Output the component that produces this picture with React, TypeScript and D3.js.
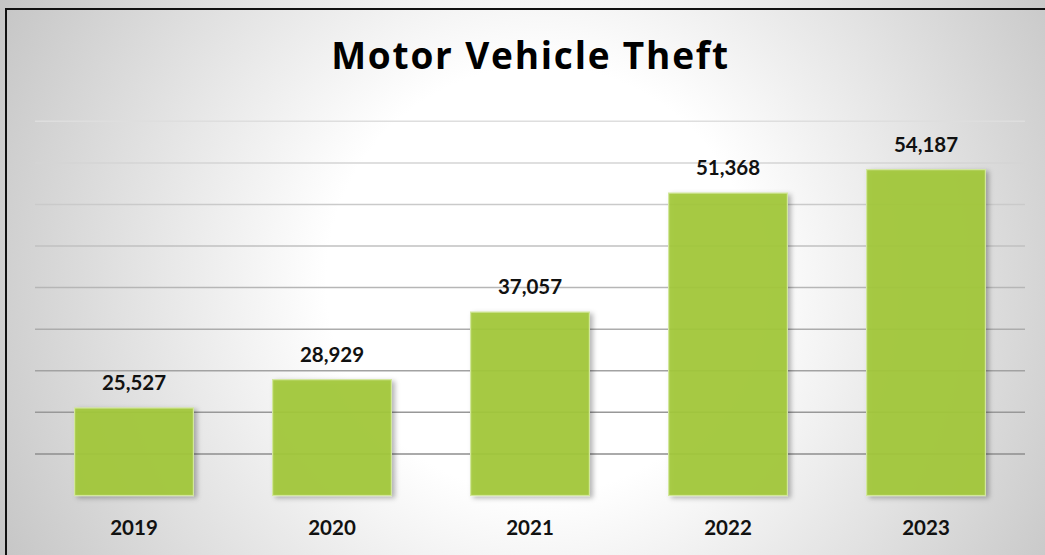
import React, { useRef, useEffect } from "react";
import * as d3 from "d3";

const years = ["2019", "2020", "2021", "2022", "2023"];
const thefts = [25527, 28929, 37057, 51368, 54187];
const gridValues = [20000, 25000, 30000, 35000, 40000, 45000, 50000, 55000, 60000];
const chartTitle = "Motor Vehicle Theft";

const W = 1045;
const H = 555;

const App: React.FC = () => {
  const svgRef = useRef<SVGSVGElement>(null);

  useEffect(() => {
    if (!svgRef.current) return;
    const svg = d3.select(svgRef.current);
    svg.selectAll("*").remove();

    const defs = svg.append("defs");

    // background radial gradient
    const bg = defs
      .append("radialGradient")
      .attr("id", "bg")
      .attr("gradientUnits", "userSpaceOnUse")
      .attr("cx", 540)
      .attr("cy", 280)
      .attr("r", 610);
    bg.append("stop").attr("offset", 0).attr("stop-color", "#ffffff");
    bg.append("stop").attr("offset", 0.35).attr("stop-color", "#ffffff");
    bg.append("stop").attr("offset", 1).attr("stop-color", "#c5c5c5");

    const shadow = defs
      .append("filter")
      .attr("id", "shadow")
      .attr("x", "-20%")
      .attr("y", "-20%")
      .attr("width", "140%")
      .attr("height", "140%");
    shadow
      .append("feDropShadow")
      .attr("dx", 3)
      .attr("dy", 2)
      .attr("stdDeviation", 2.5)
      .attr("flood-color", "#000")
      .attr("flood-opacity", 0.3);

    svg
      .append("rect")
      .attr("x", 0)
      .attr("y", 0)
      .attr("width", W)
      .attr("height", H)
      .attr("fill", "url(#bg)");

    // frame: only top and left edges are visible in the crop
    svg
      .append("path")
      .attr("d", `M6,${H} L6,9 L${W},9`)
      .attr("fill", "none")
      .attr("stroke", "#111")
      .attr("stroke-width", 2);

    const x = d3
      .scaleBand<string>()
      .domain(years)
      .range([35, 1025])
      .paddingInner(0.4)
      .paddingOuter(0.2);

    const y = d3.scaleLinear().domain([15000, 60000]).range([495.5, 121.3]);

    // gridlines get darker toward the bottom
    const gridColor = d3.interpolateRgb("#dedede", "#8e8e8e");
    svg
      .append("g")
      .selectAll("line")
      .data(gridValues)
      .join("line")
      .attr("x1", 35)
      .attr("x2", 1025)
      .attr("y1", (d) => y(d))
      .attr("y2", (d) => y(d))
      .attr("stroke", (d, i) => gridColor(1 - i / (gridValues.length - 1)))
      .attr("stroke-width", 1.5);

    // bars
    svg
      .append("g")
      .selectAll("rect")
      .data(thefts)
      .join("rect")
      .attr("x", (d, i) => x(years[i])!)
      .attr("y", (d) => y(d))
      .attr("width", x.bandwidth())
      .attr("height", (d) => y(15000) - y(d))
      .attr("fill", "#a3c83a")
      .attr("fill-opacity", 0.93)
      .attr("stroke", "#d2e79c")
      .attr("stroke-width", 1.2)
      .attr("filter", "url(#shadow)");

    // baseline
    svg
      .append("line")
      .attr("x1", 35)
      .attr("x2", 1025)
      .attr("y1", y(15000) + 0.5)
      .attr("y2", y(15000) + 0.5)
      .attr("stroke", "#4a4a4a")
      .attr("stroke-width", 3.5)
      .attr("filter", "url(#shadow)");

    const font = "Lato, 'Open Sans', sans-serif";

    // value labels
    svg
      .append("g")
      .selectAll("text")
      .data(thefts)
      .join("text")
      .attr("x", (d, i) => x(years[i])! + x.bandwidth() / 2)
      .attr("y", (d) => y(d) - 18)
      .attr("text-anchor", "middle")
      .attr("font-family", font)
      .attr("font-weight", 700)
      .attr("font-size", 20.5)
      .attr("fill", "#111")
      .text((d) => d3.format(",")(d));

    // category labels
    svg
      .append("g")
      .selectAll("text")
      .data(years)
      .join("text")
      .attr("x", (d) => x(d)! + x.bandwidth() / 2)
      .attr("y", 535)
      .attr("text-anchor", "middle")
      .attr("font-family", font)
      .attr("font-weight", 700)
      .attr("font-size", 20.5)
      .attr("fill", "#111")
      .text((d) => d);

    svg
      .append("text")
      .attr("x", 530.5)
      .attr("y", 68.5)
      .attr("text-anchor", "middle")
      .attr("font-family", "'Open Sans', Lato, sans-serif")
      .attr("font-weight", 700)
      .attr("font-size", 37)
      .attr("letter-spacing", 1.8)
      .attr("fill", "#000")
      .text(chartTitle);
  }, []);

  return (
    <svg
      ref={svgRef}
      width={W}
      height={H}
      style={{ position: "absolute", left: 0, top: 0 }}
    />
  );
};

export default App;
